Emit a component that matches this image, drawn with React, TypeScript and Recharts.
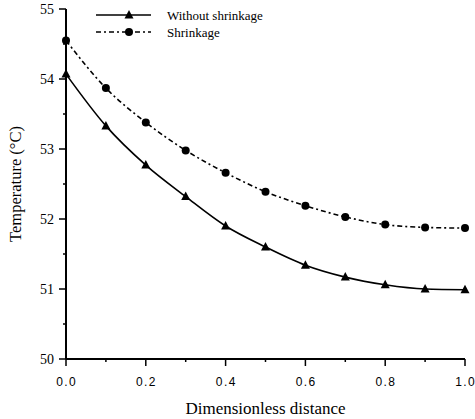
import { LineChart, Line, XAxis, YAxis, Label } from 'recharts'

const distance = [0, 0.1, 0.2, 0.3, 0.4, 0.5, 0.6, 0.7, 0.8, 0.9, 1.0]
const withoutShrinkage = [54.07, 53.33, 52.77, 52.32, 51.9, 51.6, 51.34, 51.17, 51.06, 51.0, 50.99]
const shrinkage = [54.55, 53.87, 53.38, 52.98, 52.66, 52.39, 52.19, 52.03, 51.92, 51.88, 51.87]
const xTicks = [0, 0.1, 0.2, 0.3, 0.4, 0.5, 0.6, 0.7, 0.8, 0.9, 1.0]
const yTicks = [50, 50.5, 51, 51.5, 52, 52.5, 53, 53.5, 54, 54.5, 55]

const data = distance.map((d, i) => ({
  d,
  without: withoutShrinkage[i],
  shrink: shrinkage[i],
}))

const FONT = '"Liberation Serif", "DejaVu Serif", serif'
const SANS = '"Liberation Sans", Arial, sans-serif'
const DASH = '5 3 2 3'

const isMajor = (v: number) => Math.abs(v * 5 - Math.round(v * 5)) < 1e-6

function XTick({ x, y, payload }: any) {
  const major = isMajor(payload.value)
  return (
    <g>
      <line x1={x} y1={y} x2={x} y2={y + (major ? 7 : 3)} stroke="#000" strokeWidth={1.5} />
      {major && (
        <text x={x + 0.7} y={y + 23} textAnchor="middle" dominantBaseline="central"
          fontFamily={SANS} fontSize={12} letterSpacing={1.4} fill="#000">
          {payload.value.toFixed(1)}
        </text>
      )}
    </g>
  )
}

function YTick({ x, y, payload }: any) {
  const major = Number.isInteger(payload.value)
  return (
    <g>
      <line x1={x} y1={y} x2={x - (major ? 7 : 3)} y2={y} stroke="#000" strokeWidth={1.5} />
      {major && (
        <text x={x - 12} y={y} textAnchor="end" dominantBaseline="central"
          fontFamily={FONT} fontSize={14} fill="#000">
          {payload.value}
        </text>
      )}
    </g>
  )
}

function Triangle({ cx, cy, index }: any) {
  if (cx == null || cy == null) return <g key={`t${index}`} />
  return (
    <polygon key={`t${index}`}
      points={`${cx},${cy - 5} ${cx - 4.5},${cy + 3.5} ${cx + 4.5},${cy + 3.5}`}
      fill="#000" />
  )
}

function Dot({ cx, cy, index }: any) {
  if (cx == null || cy == null) return <g key={`c${index}`} />
  return <circle key={`c${index}`} cx={cx} cy={cy} r={4} fill="#000" />
}

function LegendBox() {
  const rows = [
    { label: 'Without shrinkage', dash: undefined, marker: 'tri' },
    { label: 'Shrinkage', dash: DASH, marker: 'dot' },
  ]
  return (
    <svg width={220} height={40} style={{ position: 'absolute', left: 96, top: 7 }}>
      {rows.map((r, i) => {
        const y = 8 + i * 17
        return (
          <g key={r.label}>
            <line x1={0} y1={y} x2={55} y2={y} stroke="#000" strokeWidth={1.5} strokeDasharray={r.dash} />
            {r.marker === 'tri'
              ? <polygon points={`33,${y - 5} 28.5,${y + 3.5} 37.5,${y + 3.5}`} fill="#000" />
              : <circle cx={33} cy={y} r={4} fill="#000" />}
            <text x={71} y={y} dominantBaseline="central" fontFamily={FONT} fontSize={13} fill="#000">
              {r.label}
            </text>
          </g>
        )
      })}
    </svg>
  )
}

export default function App() {
  return (
    <div style={{ position: 'absolute', left: 0, top: 0, width: 475, height: 419, background: '#fff' }}>
      <LineChart width={475} height={419} data={data}
        margin={{ top: 9, right: 10, left: 0, bottom: 0 }}>
        <XAxis dataKey="d" type="number" domain={[0, 1]} ticks={xTicks}
          axisLine={{ stroke: '#000', strokeWidth: 2 }} tickLine={false}
          tickSize={0} tickMargin={0} height={60} tick={<XTick />} interval={0}>
          <Label value="Dimensionless distance" position="insideBottom" offset={5}
            style={{ fontFamily: FONT, fontSize: 17, fill: '#000' }} />
        </XAxis>
        <YAxis type="number" domain={[50, 55]} ticks={yTicks}
          axisLine={{ stroke: '#000', strokeWidth: 2 }} tickLine={false}
          tickSize={0} tickMargin={0} width={66} tick={<YTick />} interval={0}>
          <Label value="Temperature (°C)" angle={-90} position="insideLeft" offset={15}
            style={{ fontFamily: FONT, fontSize: 16.5, fill: '#000', textAnchor: 'middle' }} />
        </YAxis>
        <Line type="monotone" dataKey="without" stroke="#000" strokeWidth={1.6}
          dot={Triangle} activeDot={false} isAnimationActive={false} />
        <Line type="monotone" dataKey="shrink" stroke="#000" strokeWidth={1.6}
          strokeDasharray={DASH} dot={Dot} activeDot={false} isAnimationActive={false} />
      </LineChart>
      <LegendBox />
    </div>
  )
}
